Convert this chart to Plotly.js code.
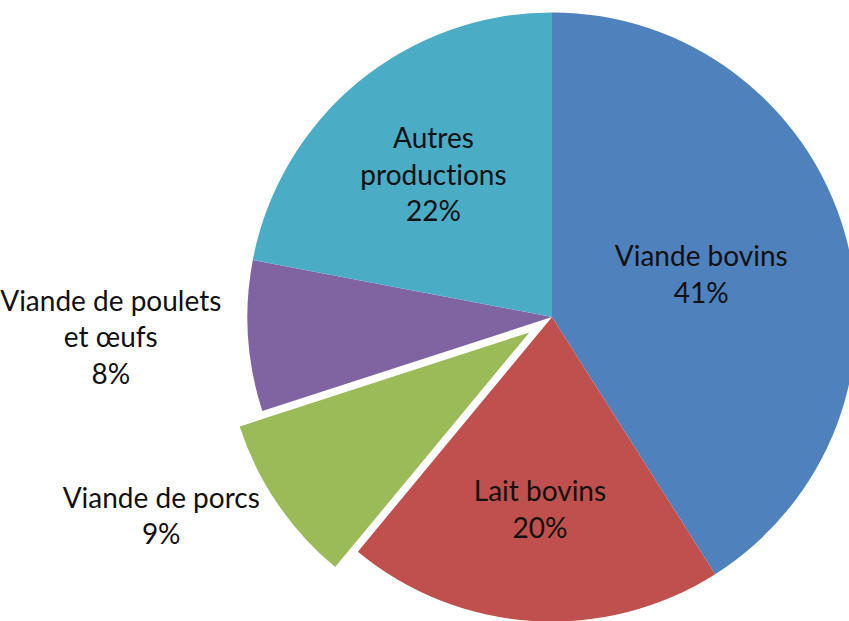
<!DOCTYPE html>
<html>
<head>
<meta charset="utf-8">
<script src="https://cdn.plot.ly/plotly-3.0.1.min.js"></script>
<style>
  html, body { margin: 0; padding: 0; width: 849px; height: 621px; overflow: hidden; background: #fff; }
  #chart { position: absolute; left: 0px; top: -15px; width: 1104px; height: 664px; }
  #chart text { font-variant-ligatures: none; font-feature-settings: "liga" 0, "clig" 0; }
</style>
</head>
<body>
<div id="chart"></div>
<script>
const categories = ["Viande bovins", "Lait bovins", "Viande de porcs", "Viande de poulets<br>et œufs", "Autres<br>productions"];
const shares = [41, 20, 9, 8, 22];
const colors = ["#4F81BD", "#C0504D", "#9BBB59", "#8064A2", "#4BACC6"];
const pulls = [0, 0, 0.09, 0, 0];
const textPositions = ["inside", "inside", "outside", "outside", "inside"];

const trace = {
  type: "pie",
  labels: categories,
  values: shares,
  sort: false,
  direction: "clockwise",
  rotation: 0,
  pull: pulls,
  textposition: textPositions,
  insidetextorientation: "horizontal",
  texttemplate: "%{label}<br>%{value}%",
  textfont: { family: "Lato, 'Open Sans', sans-serif", size: 28, color: "#111111" },
  marker: { colors: colors, line: { width: 0 } },
  hoverinfo: "none",
  showlegend: false,
  domain: { x: [0, 1], y: [0, 1] }
};

const layout = {
  width: 1104,
  height: 664,
  margin: { l: 0, r: 0, t: 0, b: 0 },
  paper_bgcolor: "#ffffff",
  showlegend: false
};

Plotly.newPlot("chart", [trace], layout, { staticPlot: true, displayModeBar: false });
</script>
</body>
</html>
